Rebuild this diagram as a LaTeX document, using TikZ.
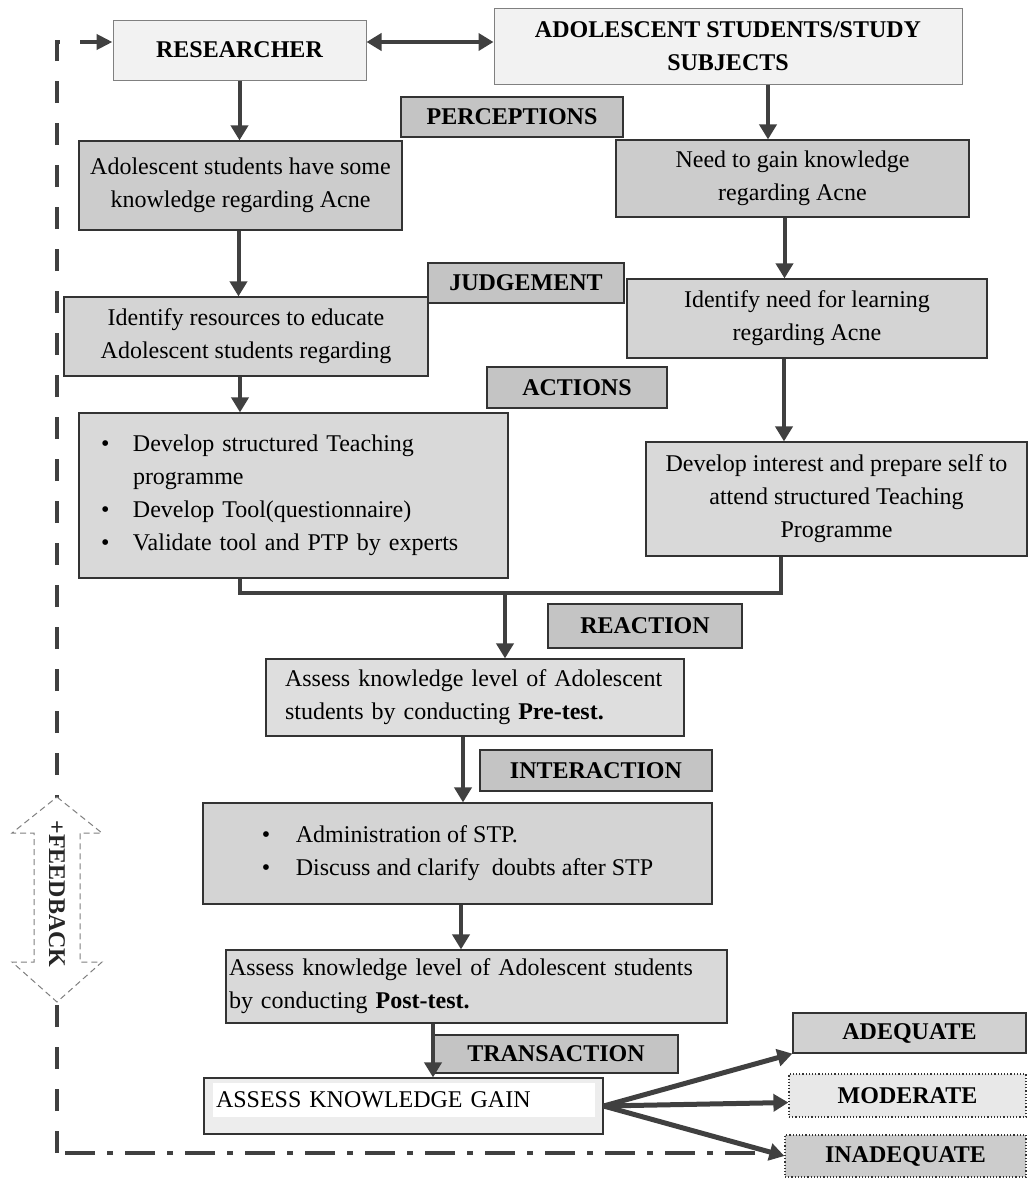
\documentclass[tikz,border=0pt]{standalone}
\usepackage{fontspec}
\setmainfont{Liberation Serif}
\usetikzlibrary{arrows.meta}
\newcommand{\boxfont}{\fontsize{24}{33}\selectfont}
\newcommand{\bul}{\makebox[32pt][l]{\textbullet}}

\begin{document}
\begin{tikzpicture}[x=1pt,y=-1pt,
  box/.style={draw=black!80, line width=1.2pt, fill=#1, font=\boxfont, inner sep=0pt, align=center},
  box/.default=black!17,
  head/.style={box=black!5, draw=black!50, line width=1pt, font=\boxfont\bfseries},
  tag/.style={box=black!23, font=\boxfont\bfseries},
  conn/.style={draw=black!75, line width=4pt, -{Triangle[length=15pt,width=17pt]}},
  merge/.style={draw=black!75, line width=4pt},
  fbdashdot/.style={draw=black!75, line width=4pt, dash pattern=on 30pt off 12pt on 6pt off 12pt},
  fbdash/.style={draw=black!75, line width=4pt, dash pattern=on 22pt off 20pt}]

\useasboundingbox (0,0) rectangle (1029,1178);

% feedback loop
\coordinate (fbend) at (755,1153);
\coordinate (fbcorner) at (57,1153);
\draw [fbdashdot] (fbend) -- (fbcorner);

% top row
\node [head, minimum width=253pt, minimum height=60pt] (res) at (239.5,50) {RESEARCHER};
\node [head, minimum width=468pt, minimum height=76pt] (subj) at (728,46)
      {ADOLESCENT STUDENTS/STUDY\\SUBJECTS};
\draw [fbdash, -{Triangle[length=16pt,width=15pt]}] (fbcorner) |- ([yshift=8pt]res.west);

% perceptions
\node [tag, minimum width=222pt, minimum height=40pt] (perc) at (512,117) {PERCEPTIONS};
\node [box=black!20, minimum width=323pt, minimum height=89pt] (know) at (240.5,185.5)
      {Adolescent students have some\\knowledge regarding Acne};
\node [box=black!20, minimum width=353pt, minimum height=77pt] (need) at (792.5,178.5)
      {Need to gain knowledge\\regarding Acne};

% judgement
\node [tag, minimum width=196pt, minimum height=40pt] (judg) at (526,283) {JUDGEMENT};
\node [box, minimum width=364pt, minimum height=79pt] (ident) at (246,336.5)
      {Identify resources to educate\\Adolescent students regarding};
\node [box, minimum width=360pt, minimum height=79pt] (lneed) at (807,318.5)
      {Identify need for learning\\regarding Acne};

% actions
\node [tag, minimum width=180pt, minimum height=41pt] (act) at (577,387.5) {ACTIONS};
\node [box=black!15, align=left, text width=385pt, inner xsep=22pt, minimum height=165pt] (dev) at (293.5,495.5)
      {\bul Develop structured Teaching\\\hspace*{32pt}programme\\\bul Develop Tool(questionnaire)\\\bul Validate tool and PTP by experts};
\node [box=black!15, minimum width=381pt, minimum height=114pt] (interest) at (836.5,499)
      {Develop interest and prepare self to\\attend structured Teaching\\Programme};

% reaction
\node [tag, minimum width=194pt, minimum height=44pt] (reac) at (645,626) {REACTION};
\node [box=black!13, align=left, text width=380pt, inner xsep=19pt, minimum height=77pt] (pre) at (475,697.5)
      {Assess knowledge level of Adolescent\\students by conducting \textbf{Pre-test.}};

% interaction
\node [tag, minimum width=232pt, minimum height=41pt] (inter) at (596,770.5) {INTERACTION};
\node [box, align=left, minimum width=509pt, minimum height=101pt] (stp) at (457.5,853.5)
      {\makebox[34pt][l]{\textbullet}Administration of STP.\\\makebox[34pt][l]{\textbullet}Discuss and clarify\ \ doubts after STP};
\node [box=black!15, align=left, text width=495pt, inner xsep=3pt, minimum height=73pt] (post) at (476.5,986.5)
      {Assess knowledge level of Adolescent students\\by conducting \textbf{Post-test.}};

% transaction
\node [tag, minimum width=244pt, minimum height=38pt] (trans) at (556,1054) {TRANSACTION};
\node [box=black!7, minimum width=399pt, minimum height=56pt] (gain) at (403.5,1106) {};
\node [fill=white, font=\boxfont, align=left, text width=376pt, inner xsep=3pt, minimum height=34pt] (gaintxt) at (404,1100)
      {ASSESS KNOWLEDGE GAIN};

% outcome
\node [box=black!18, font=\boxfont\bfseries, minimum width=233pt, minimum height=40pt] (adeq) at (909.5,1033) {ADEQUATE};
\node [box=black!9, dotted, font=\boxfont\bfseries, minimum width=237pt, minimum height=43pt] (mod) at (907.5,1095.5) {MODERATE};
\node [box=black!20, dotted, font=\boxfont\bfseries, minimum width=241pt, minimum height=42pt] (inad) at (905.5,1156) {INADEQUATE};

% arrows
\draw [conn, {Triangle[length=15pt,width=17pt]}-{Triangle[length=15pt,width=17pt]}]
      ([yshift=8pt]res.east) -- ([yshift=8pt]res.east -| subj.west);
\draw [conn] (res.south) -- (res.south |- know.north);
\draw [conn] ([xshift=40pt]subj.south) -- ([xshift=40pt]subj.south |- need.north);
\draw [conn] ([xshift=-2pt]know.south) -- ([xshift=-2pt]know.south |- ident.north);
\draw [conn] ([xshift=-8pt]need.south) -- ([xshift=-8pt]need.south |- lneed.north);
\draw [conn] ([xshift=-6pt]ident.south) -- ([xshift=-6pt]ident.south |- dev.north);
\draw [conn] ([xshift=-23pt]lneed.south) -- ([xshift=-23pt]lneed.south |- interest.north);

\coordinate (join) at (505,593);
\draw [merge] ([xshift=-53.5pt]dev.south) |- (join) -| ([xshift=-55.5pt]interest.south);
\draw [conn] (join) -- (join |- pre.north);
\draw [conn] ([xshift=-12pt]pre.south) -- ([xshift=-12pt]pre.south |- stp.north);
\draw [conn] ([xshift=3.5pt]stp.south) -- ([xshift=3.5pt]stp.south |- post.north);
\draw [conn] ([xshift=-43.5pt]post.south) -- ([xshift=-43.5pt]post.south |- gain.north);

\draw [conn, line width=5pt] (gain.east) -- (adeq.south west);
\draw [conn, line width=5pt] (gain.east) -- ([yshift=-7pt]mod.west);
\draw [conn, line width=5pt] (gain.east) -- (inad.west);

% feedback arrow
\draw [draw=black!50, line width=1pt, fill=white, dash pattern=on 6pt off 4pt]
      (57,797) -- (102,833) -- (80,833) -- (80,962) -- (102,962) -- (57,1002)
      -- (12,962) -- (34,962) -- (34,833) -- (12,833) -- cycle;
\node [rotate=-90, font=\boxfont\bfseries, text=black!85] (fbtext) at (57,894) {+FEEDBACK};

\end{tikzpicture}
\end{document}
